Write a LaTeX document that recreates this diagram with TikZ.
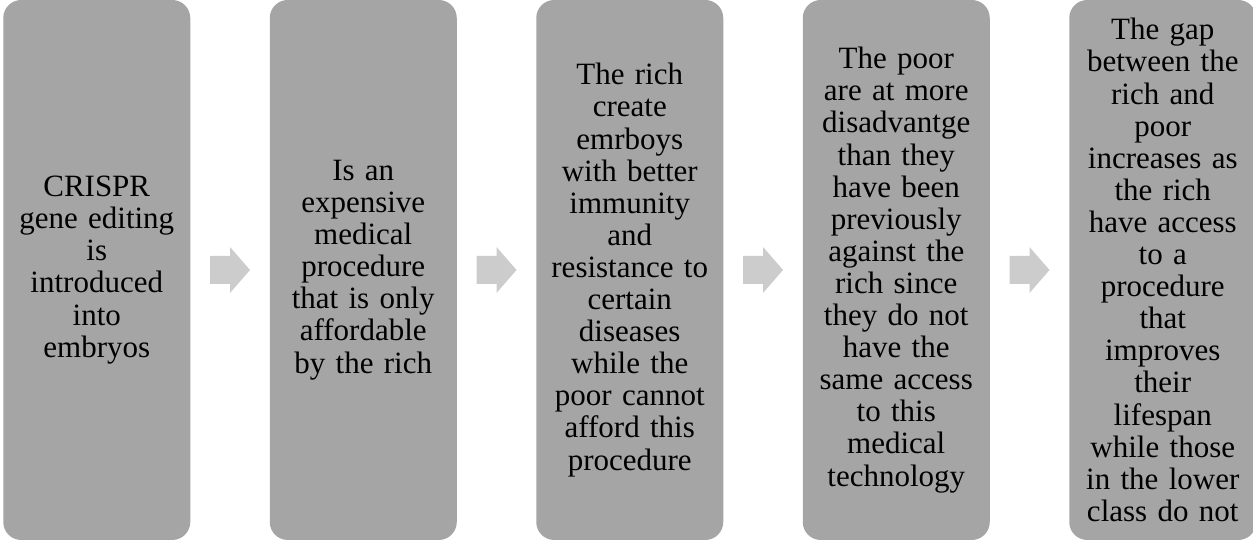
\documentclass[tikz,border=0pt]{standalone}
\usepackage{fontspec}
\setmainfont{Liberation Serif}
\usetikzlibrary{calc}
\definecolor{stagegray}{HTML}{A5A5A5}
\definecolor{arrowgray}{HTML}{CCCCCC}

\begin{document}
\begin{tikzpicture}[x=1pt,y=1pt,
		stage/.style={fill=stagegray, rounded corners=18pt, minimum height=540pt,
			inner sep=0pt, text width=187pt, align=center,
			font=\fontsize{31}{32.1}\selectfont},
		stagearrow/.style={fill=arrowgray}]
		\useasboundingbox (0,0) rectangle (1253,540);
		% the five stages, left to right
		\node[stage] (s1) at (96.75,270) {CRISPR\\gene editing\\is\\introduced\\into\\embryos};
		\node[stage] (s2) at (363.25,270) {Is an\\expensive\\medical\\procedure\\that is only\\affordable\\by the rich};
		\node[stage] (s3) at (629.75,270) {The rich\\create\\emrboys\\with better\\immunity\\and\\resistance to\\certain\\diseases\\while the\\poor cannot\\afford this\\procedure};
		\node[stage] (s4) at (896.25,270) {The poor\\are at more\\disadvantge\\than they\\have been\\previously\\against the\\rich since\\they do not\\have the\\same access\\to this\\medical\\technology};
		\node[stage] (s5) at (1162.75,270) {The gap\\between the\\rich and\\poor\\increases as\\the rich\\have access\\to a\\procedure\\that\\improves\\their\\lifespan\\while those\\in the lower\\class do not};
		% block arrows in the gaps
		\foreach \a/\b in {s1/s2, s2/s3, s3/s4, s4/s5}
			\fill[stagearrow] ($(\a.east)!0.5!(\b.west)$) ++(-20,-14) -- ++(20,0) -- ++(0,-9)
				-- ++(20,23) -- ++(-20,23) -- ++(0,-9) -- ++(-20,0) -- cycle;
	\end{tikzpicture}
\end{document}
